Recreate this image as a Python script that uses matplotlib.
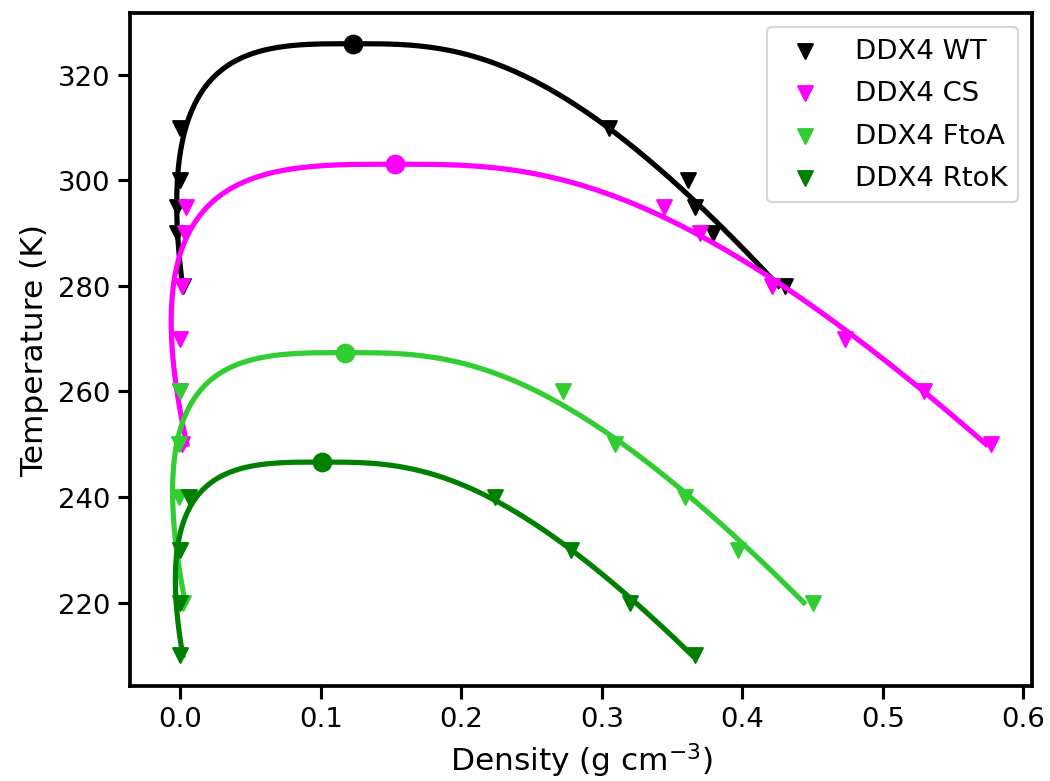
import numpy as np
import matplotlib
matplotlib.use("Agg")
import matplotlib.pyplot as plt

# coexistence densities (g cm^-3)
labels = ["DDX4 WT", "DDX4 CS", "DDX4 FtoA", "DDX4 RtoK"]
colors = ["black", "magenta", "limegreen", "green"]

wt_T = [310, 300, 295, 290, 280]
wt_low = [0.000, 0.000, -0.002, -0.002, 0.002]
wt_high = [0.305, 0.361, 0.366, 0.379, 0.430]

cs_T = [295, 290, 280, 270, 260, 250]
cs_low = [0.004, 0.003, 0.001, 0.000, 0.000, 0.001]
cs_high = [0.344, 0.370, 0.421, 0.473, 0.529, 0.577]

ftoa_T = [260, 250, 240, 230, 220]
ftoa_low = [0.000, -0.001, -0.001, 0.000, 0.002]
ftoa_high = [0.272, 0.309, 0.359, 0.397, 0.450]

rtok_T = [240, 230, 220, 210]
rtok_low = [0.006, 0.000, 0.000, 0.000]
rtok_high = [0.224, 0.278, 0.320, 0.366]

beta = 0.325


def fit_binodal(T, low, high):
    """Rectilinear diameters + critical scaling law."""
    T = np.array(T, float)
    low = np.array(low, float)
    high = np.array(high, float)
    # T = Tc - k * (rho_H - rho_L)^(1/beta)
    u = (high - low) ** (1 / beta)
    slope, Tc = np.polyfit(u, T, 1)
    B = (-Tc / slope) ** beta
    # (rho_H + rho_L)/2 = c + d*T
    d, c = np.polyfit(T, (high + low) / 2, 1)
    rho_c = c + d * Tc
    Ts = np.linspace(T.min(), Tc, 1000)
    diam = c + d * Ts
    half = 0.5 * B * (1 - Ts / Tc) ** beta
    x = np.concatenate([diam - half, (diam + half)[::-1]])
    y = np.concatenate([Ts, Ts[::-1]])
    return x, y, rho_c, Tc


datasets = [
    (wt_T, wt_low, wt_high),
    (cs_T, cs_low, cs_high),
    (ftoa_T, ftoa_low, ftoa_high),
    (rtok_T, rtok_low, rtok_high),
]

fig = plt.figure(figsize=(7, 5.2133), dpi=150)
ax = fig.add_axes([0.124, 0.1215, 0.859, 0.8605])

for (T, low, high), lab, col in zip(datasets, labels, colors):
    ax.scatter(list(low) + list(high), list(T) + list(T), marker="v",
               s=50, color=col, label=lab, zorder=3)
    x, y, rho_c, Tc = fit_binodal(T, low, high)
    ax.plot(x, y, color=col, lw=2.5, zorder=3)
    ax.plot(rho_c, Tc, "o", color=col, ms=8.5, zorder=4)

ax.set_xlabel("Density (g cm$^{-3}$)", fontsize=15)
ax.set_ylabel("Temperature (K)", fontsize=15)
ax.tick_params(labelsize=13.2, length=6, width=1.5)
for sp in ax.spines.values():
    sp.set_linewidth(1.8)
ax.legend(loc="upper right", fontsize=13.2, labelspacing=0.6)

fig.savefig("out.png", dpi=150)
